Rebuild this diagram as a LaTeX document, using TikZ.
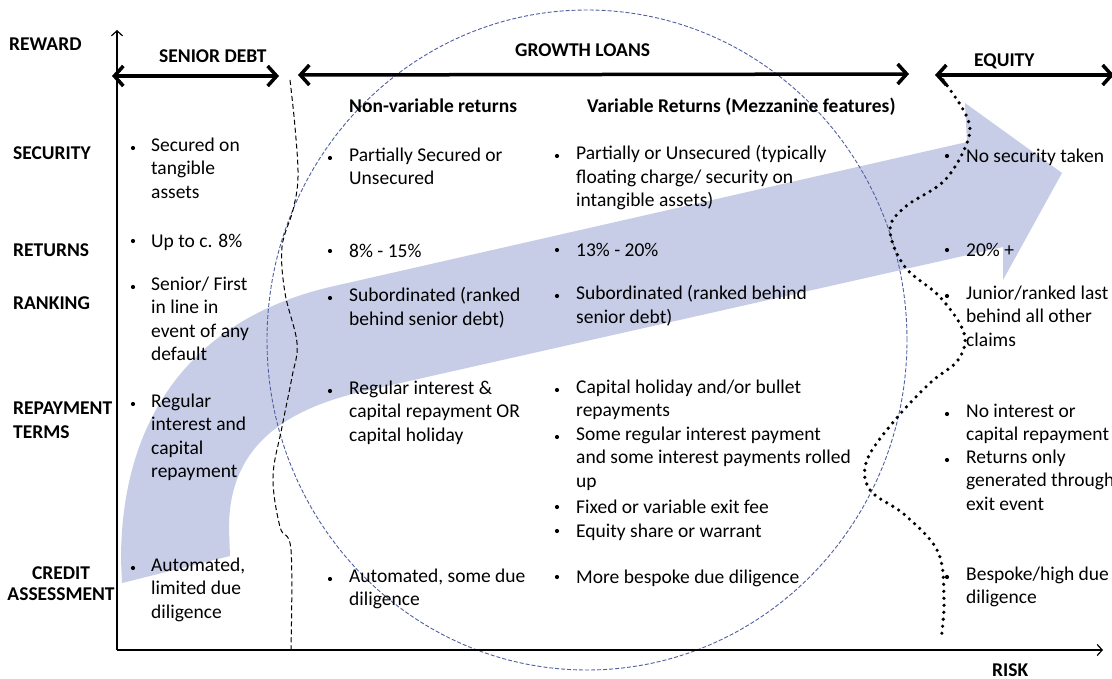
\documentclass[tikz,border=0pt]{standalone}
\usepackage{fontspec}
\setmainfont{Carlito}
\usepackage{tikz}
\usetikzlibrary{
  arrows.meta,
  positioning
}
\definecolor{bandblue}{RGB}{199,205,231}
\definecolor{ringblue}{RGB}{80,95,160}
\newcommand\cellfont{\fontsize{19.5}{23.5}\selectfont}
\tikzset{
  x=1pt, y=-1pt,
  span/.style={line width=3.5pt, {Straight Barb[length=9pt,width=20pt]}-{Straight Barb[length=9pt,width=20pt]}},
  axis/.style={line width=1.2pt, -{Straight Barb[length=5pt,width=11pt]}},
  cell/.style={anchor=north west, align=left, inner sep=0pt, font=\cellfont, execute at begin node=\strut},
  rowlab/.style={cell, font=\cellfont\bfseries},
  head/.style={anchor=base west, inner sep=0pt, font=\cellfont\bfseries},
  dot/.style={circle, fill=black, inner sep=0pt, minimum size=4.2pt},
  ring/.style={draw=ringblue, line width=0.9pt, dash pattern=on 4pt off 2pt},
  border/.style={black, line width=1pt, dash pattern=on 5pt off 3pt},
  gate/.style={black, line width=3.6pt, line cap=round, dash pattern=on 0pt off 7pt}
}

\begin{document}
\begin{tikzpicture}
    \clip (0,0) rectangle (1112,679);
    \fill[white] (0,0) rectangle (1112,679);

    % rising band
    \fill[bandblue] (122,583) -- (121,560)
      .. controls (121,420) and (190,320) .. (330,287)
      -- (967,142) -- (965,103) -- (1062,173) -- (1003,280) -- (1003,247)
      -- (365,391) .. controls (280,410) and (228,450) .. (229,530)
      -- (230,556) -- cycle;

    % growth loans ring
    \draw[ring] (587,340) ellipse [x radius=320pt, y radius=330pt];

    % axes
    \coordinate (O) at (117,650);
    \coordinate (ytop) at (117,30);
    \coordinate (xend) at (1103,650);
    \draw[axis] (O) -- (ytop);
    \draw[axis] (O) -- (xend);

    % boundaries
    \draw[border] plot[smooth, tension=0.6] coordinates {(290,80) (295,127) (298,177) (293,210) (282,247)
      (285,293) (297,343) (292,377) (282,427) (273,477) (280,527) (291,550) (291,650)};
    \draw[gate] plot[smooth, tension=0.6] coordinates {(943,80) (966,115) (968,140) (945,180) (905,207)
      (890,230) (905,267) (940,297) (964,333) (958,360) (930,383) (895,420) (867,460) (870,490)
      (905,515) (938,552) (944,600) (941,640)};

    % spans
    \coordinate (sdL) at (112,76);
    \coordinate (sdR) at (279,76);
    \coordinate (glL) at (298,75);
    \coordinate (glR) at (909,74);
    \coordinate (eqL) at (935,75);
    \coordinate (eqR) at (1114,75);
    \draw[span] (sdL) -- (sdR);
    \draw[span] (glL) -- (glR);
    \draw[span] (eqL) -- (eqR);

    \node[head] (senior) at (159,63) {SENIOR DEBT};
    \node[head] (growth) at (515,57) {GROWTH LOANS};
    \node[head] (equity) at (974,67) {EQUITY};
    \node[head] (fixed) at (349,113) {Non-variable returns};
    \node[head] (mezz) at (587,113) {Variable Returns (Mezzanine features)};

    % row labels
    \node[head] (reward) at (9,51) {REWARD};
    \node[head] (security) at (13,160) {SECURITY};
    \node[head] (returns) at (13,257) {RETURNS};
    \node[head] (ranking) at (13,309) {RANKING};
    \node[rowlab, font=\fontsize{19.5}{24}\selectfont\bfseries] (repay) at (13,402) {REPAYMENT\\TERMS};
    \node[rowlab, anchor=north, align=center, font=\fontsize{19.5}{21.5}\selectfont\bfseries] (credit) at (61,566.5) {CREDIT\\ASSESSMENT};
    \node[head] (risk) at (992,676) {RISK};

    % bullets
    \foreach \x/\y [count=\i] in {133/148, 133/241, 133/287, 133/404, 133/568,
        330/158, 330/251, 330/298, 330/391, 330/579,
        557/156, 557/250, 557/296, 557/390, 557/437, 557/507, 557/531, 557/577,
        947/156, 947/250, 947/296, 947/414, 947/460, 947/577}
      \node[dot] (dot\i) at (\x,\y) {};

    % senior debt
    \node[cell] (sd1) at (151,137.5) {Secured on\\tangible\\assets};
    \node[cell] (sd2) at (151,230.5) {Up to c. 8\%};
    \node[cell] (sd3) at (151,276.5) {Senior/ First\\in line in\\event of any\\default};
    \node[cell] (sd4) at (151,393.5) {Regular\\interest and\\capital\\repayment};
    \node[cell] (sd5) at (151,557.5) {Automated,\\limited due\\diligence};

    % non-variable
    \node[cell] (nv1) at (349,147.5) {Partially Secured or\\Unsecured};
    \node[cell] (nv2) at (349,240.5) {8\% - 15\%};
    \node[cell] (nv3) at (349,287.5) {Subordinated (ranked\\behind senior debt)};
    \node[cell] (nv4) at (349,380.5) {Regular interest \&\\capital repayment OR\\capital holiday};
    \node[cell] (nv5) at (349,568.5) {Automated, some due\\diligence};

    % variable
    \node[cell] (vr1) at (576,145.5) {Partially or Unsecured (typically\\floating charge/ security on\\intangible assets)};
    \node[cell] (vr2) at (576,239.5) {13\% - 20\%};
    \node[cell] (vr3) at (576,285.5) {Subordinated (ranked behind\\senior debt)};
    \node[cell] (vr4) at (576,379.5) {Capital holiday and/or bullet\\repayments};
    \node[cell] (vr5) at (576,426.5) {Some regular interest payment\\and some interest payments rolled\\up};
    \node[cell] (vr6) at (576,496.5) {Fixed or variable exit fee};
    \node[cell] (vr7) at (576,520.5) {Equity share or warrant};
    \node[cell] (vr8) at (576,566.5) {More bespoke due diligence};

    % equity
    \node[cell] (eq1) at (966,145.5) {No security taken};
    \node[cell] (eq2) at (966,239.5) {20\% +};
    \node[cell] (eq3) at (966,285.5) {Junior/ranked last\\behind all other\\claims};
    \node[cell] (eq4) at (966,403.5) {No interest or\\capital repayment};
    \node[cell] (eq5) at (966,449.5) {Returns only\\generated through\\exit event};
    \node[cell] (eq6) at (966,566.5) {Bespoke/high due\\diligence};
  \end{tikzpicture}
\end{document}
